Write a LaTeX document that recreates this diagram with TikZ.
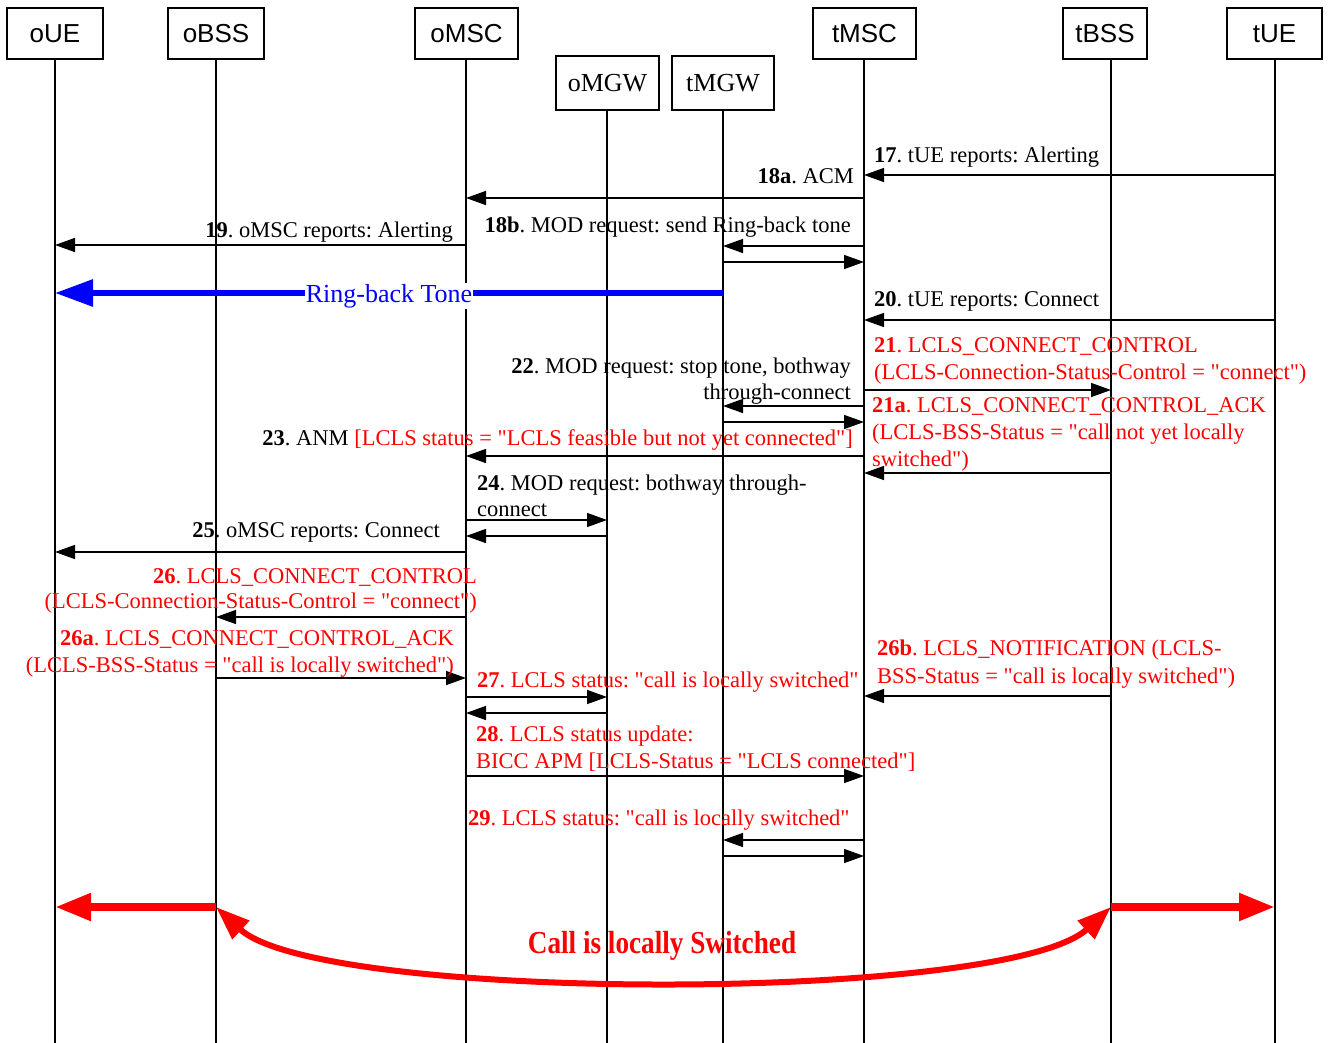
\documentclass[tikz,border=0pt]{standalone}
\usepackage{fontspec}
\setmainfont{Liberation Serif}[Ligatures=TeXOff]
\newfontfamily\hdrfont{Liberation Sans}[Ligatures=TeXOff]
\usetikzlibrary{arrows.meta}
\definecolor{lred}{RGB}{255,0,0}
\definecolor{lblue}{RGB}{0,0,255}
\frenchspacing
\begin{document}
\begin{tikzpicture}[x=1pt,y=-1pt,
  hdr/.style={draw,line width=1.2pt,inner sep=0pt,font=\hdrfont\fontsize{26}{30}\selectfont},
  mgw/.style={draw,line width=1.2pt,inner sep=0pt,font=\fontsize{26}{30}\selectfont},
  life/.style={line width=1.2pt},
  msg/.style={line width=1.5pt,-{Triangle[length=20pt,width=14pt]}},
  lbl/.style={inner sep=0pt,font=\frenchspacing\fontsize{22.5}{28}\selectfont},
  rlbl/.style={lbl,text=lred},
  bigred/.style={draw=lred,line width=8pt,-{Triangle[length=36pt,width=26pt]}},
  curvered/.style={draw=lred,line width=6pt,{Triangle[length=34pt,width=24pt]}-{Triangle[length=34pt,width=24pt]}},
]
\useasboundingbox[fill=white] (0,0) rectangle (1332,1043);

% headers
\node[hdr,minimum width=96pt,minimum height=51pt] (oUE) at (55,33.5) {oUE};
\node[hdr,minimum width=96pt,minimum height=51pt] (oBSS) at (216,33.5) {oBSS};
\node[hdr,minimum width=103pt,minimum height=51pt] (oMSC) at (466.5,33.5) {oMSC};
\node[hdr,minimum width=103pt,minimum height=51pt] (tMSC) at (864.5,33.5) {tMSC};
\node[hdr,minimum width=84pt,minimum height=51pt] (tBSS) at (1105,33.5) {tBSS};
\node[hdr,minimum width=95pt,minimum height=51pt] (tUE) at (1274.5,33.5) {tUE};
\node[mgw,minimum width=103pt,minimum height=54pt] (oMGW) at (607.5,83) {oMGW};
\node[mgw,minimum width=102pt,minimum height=54pt] (tMGW) at (723,83) {tMGW};

% lifeline x positions
\coordinate (xoUE) at (55,0);
\coordinate (xoBSS) at (216,0);
\coordinate (xoMSC) at (466,0);
\coordinate (xoMGW) at (607,0);
\coordinate (xtMGW) at (723,0);
\coordinate (xtMSC) at (864,0);
\coordinate (xtBSS) at (1111,0);
\coordinate (xtUE) at (1275,0);

\draw[life] (oUE.south -| xoUE) -- (xoUE |- 0,1043);
\draw[life] (oBSS.south -| xoBSS) -- (xoBSS |- 0,1043);
\draw[life] (oMSC.south -| xoMSC) -- (xoMSC |- 0,1043);
\draw[life] (oMGW.south -| xoMGW) -- (xoMGW |- 0,1043);
\draw[life] (tMGW.south -| xtMGW) -- (xtMGW |- 0,1043);
\draw[life] (tMSC.south -| xtMSC) -- (xtMSC |- 0,1043);
\draw[life] (tBSS.south -| xtBSS) -- (xtBSS |- 0,1043);
\draw[life] (tUE.south -| xtUE) -- (xtUE |- 0,1043);

% messages
\draw[msg] (xtUE |- 0,175) -- (xtMSC |- 0,175);
\draw[msg] (xtMSC |- 0,198) -- (xoMSC |- 0,198);
\draw[msg] (xtMSC |- 0,246) -- (xtMGW |- 0,246);
\draw[msg] (xtMGW |- 0,262) -- (xtMSC |- 0,262);
\draw[msg] (xoMSC |- 0,245) -- (xoUE |- 0,245);
\draw[msg] (xtUE |- 0,320) -- (xtMSC |- 0,320);
\draw[msg] (xtMSC |- 0,390) -- (xtBSS |- 0,390);
\draw[msg] (xtMSC |- 0,406) -- (xtMGW |- 0,406);
\draw[msg] (xtMGW |- 0,422) -- (xtMSC |- 0,422);
\draw[msg] (xtMSC |- 0,456) -- (xoMSC |- 0,456);
\draw[msg] (xtBSS |- 0,473) -- (xtMSC |- 0,473);
\draw[msg] (xoMSC |- 0,520) -- (xoMGW |- 0,520);
\draw[msg] (xoMGW |- 0,536) -- (xoMSC |- 0,536);
\draw[msg] (xoMSC |- 0,552) -- (xoUE |- 0,552);
\draw[msg] (xoMSC |- 0,617) -- (xoBSS |- 0,617);
\draw[msg] (xoBSS |- 0,678) -- (xoMSC |- 0,678);
\draw[msg] (xtBSS |- 0,696) -- (xtMSC |- 0,696);
\draw[msg] (xoMSC |- 0,697) -- (xoMGW |- 0,697);
\draw[msg] (xoMGW |- 0,713) -- (xoMSC |- 0,713);
\draw[msg] (xoMSC |- 0,776) -- (xtMSC |- 0,776);
\draw[msg] (xtMSC |- 0,840) -- (xtMGW |- 0,840);
\draw[msg] (xtMGW |- 0,856) -- (xtMSC |- 0,856);

% ring-back tone
\draw[draw=lblue,line width=6pt,-{Triangle[length=38pt,width=26pt]}] (xtMGW |- 0,293) -- (xoUE |- 0,293);
\node[inner sep=1pt,fill=white,text=lblue,font=\fontsize{26}{30}\selectfont,anchor=base] (trbt) at (389,302) {Ring-back Tone};

% labels
\node[lbl,anchor=base west] (t17) at (874,163) {\textbf{17}. tUE reports: Alerting};
\node[lbl,anchor=base east] (t18a) at (854,183) {\textbf{18a}. ACM};
\node[lbl,anchor=base east] (t18b) at (851,232) {\textbf{18b}. MOD request: send Ring-back tone};
\node[lbl,anchor=base east] (t19) at (453,237) {\textbf{19}. oMSC reports: Alerting};
\node[lbl,anchor=base west] (t20) at (874,306) {\textbf{20}. tUE reports: Connect};
\node[rlbl,anchor=base west] (t21a) at (874,352) {\textbf{21}. LCLS\_CONNECT\_CONTROL};
\node[rlbl,anchor=base west] (t21b) at (874,379) {(LCLS-Connection-Status-Control = "connect")};
\node[lbl,anchor=base east] (t22a) at (851,373) {\textbf{22}. MOD request: stop tone, bothway};
\node[lbl,anchor=base east] (t22b) at (851,399) {through-connect};
\node[rlbl,anchor=base west] (t21aa) at (872,412) {\textbf{21a}. LCLS\_CONNECT\_CONTROL\_ACK};
\node[rlbl,anchor=base west] (t21ab) at (872,439) {(LCLS-BSS-Status = "call not yet locally};
\node[rlbl,anchor=base west] (t21ac) at (872,466) {switched")};
\node[lbl,anchor=base east] (t23) at (853,445) {\textbf{23}. ANM \textcolor{lred}{[LCLS status = "LCLS feasible but not yet connected"]}};
\node[lbl,anchor=base west] (t24a) at (477,490) {\textbf{24}. MOD request: bothway through-};
\node[lbl,anchor=base west] (t24b) at (477,516) {connect};
\node[lbl,anchor=base east] (t25) at (440,537) {\textbf{25}. oMSC reports: Connect};
\node[rlbl,anchor=base east] (t26a) at (477,583) {\textbf{26}. LCLS\_CONNECT\_CONTROL};
\node[rlbl,anchor=base east] (t26b) at (477,608) {(LCLS-Connection-Status-Control = "connect")};
\node[rlbl,anchor=base east] (t26aa) at (454,645) {\textbf{26a}. LCLS\_CONNECT\_CONTROL\_ACK};
\node[rlbl,anchor=base east] (t26ab) at (454,672) {(LCLS-BSS-Status = "call is locally switched")};
\node[rlbl,anchor=base west] (t26ba) at (877,655) {\textbf{26b}. LCLS\_NOTIFICATION (LCLS-};
\node[rlbl,anchor=base west] (t26bb) at (877,683) {BSS-Status = "call is locally switched")};
\node[rlbl,anchor=base west] (t27) at (477,687) {\textbf{27}. LCLS status: "call is locally switched"};
\node[rlbl,anchor=base west] (t28a) at (476,741) {\textbf{28}. LCLS status update:};
\node[rlbl,anchor=base west] (t28b) at (476,768) {BICC APM [LCLS-Status = "LCLS connected"]};
\node[rlbl,anchor=base west] (t29) at (468,825) {\textbf{29}. LCLS status: "call is locally switched"};

% locally switched
\draw[bigred] (xoBSS |- 0,907) -- (xoUE |- 0,907);
\draw[bigred] (xtBSS |- 0,907) -- (xtUE |- 0,907);
\draw[curvered] (xoBSS |- 0,907) .. controls (320,1003) and (1007,1003) .. (xtBSS |- 0,907);
\node[inner sep=0pt,text=lred,font=\bfseries\fontsize{32}{36}\selectfont,anchor=base] (tcall) at (662,953) {\scalebox{0.85}[1]{Call is locally Switched}};
\end{tikzpicture}
\end{document}
